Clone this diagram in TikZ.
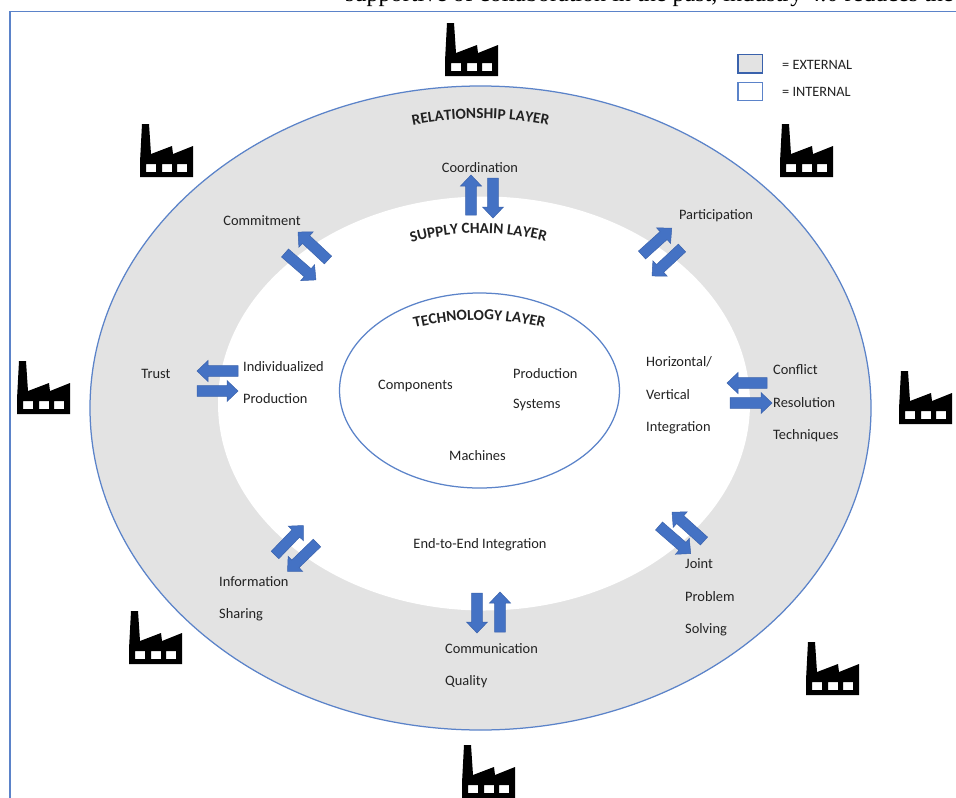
\documentclass[tikz,border=0pt]{standalone}
\usepackage{fontspec}
\setmainfont{Carlito}
\newfontfamily\topfont{Liberation Serif}
\usetikzlibrary{decorations.text}
\definecolor{ringblue}{HTML}{5B83C9}
\definecolor{ringgrey}{HTML}{E3E3E3}
\definecolor{arrowblue}{HTML}{4472C4}
\definecolor{arrowedge}{HTML}{3A62AC}
\definecolor{labelink}{HTML}{222222}
\tikzset{
  ring/.style={draw=ringblue,line width=1.25pt},
  lbl/.style={font=\fontsize{14.4}{16}\selectfont,text=labelink,inner sep=0pt},
  lbll/.style={lbl,anchor=west},
  legendtxt/.style={font=\fontsize{14.3}{16}\selectfont,text=labelink,inner sep=0pt,anchor=west},
  blockarrow/.style={fill=arrowblue,draw=arrowedge,line width=.5pt,line join=miter}
}
\newcommand{\curvefont}{\fontsize{15.3}{17}\selectfont\bfseries}
\newcommand{\blockarr}[4]{%
  \draw[blockarrow,shift={(#1,#2)},rotate=#3]
    (0,-5.3)--({#4-11},-5.3)--({#4-11},-10.5)--(#4,0)--({#4-11},10.5)--({#4-11},5.3)--(0,5.3)--cycle;}
\newcommand{\factory}[2]{%
  \begin{scope}[shift={(#1,#2)}]
    \fill[black,even odd rule]
      (2,0)--(9,0)--(11,30)--(32,22)--(33,30)--(53,22)--(53,53)--(0,53)--(0,38)--cycle
      (6,40) rectangle (16,48) (22,40) rectangle (32,48) (37,40) rectangle (47,48);
  \end{scope}}
\begin{document}
\begin{tikzpicture}[x=1pt,y=-1pt]
\clip (0,0) rectangle (956,798);
\fill[white] (0,0) rectangle (956,798);
% page frame and running text
\draw[ringblue,line width=1.1pt] (10,798)--(10,11.5)--(956,11.5);
\node[anchor=base west,inner sep=0pt,font=\topfont\fontsize{24.1}{26}\selectfont] (runtext) at (345,1.5) {supportive of collaboration in the past, industry 4.0 reduces the};
% rings
\draw[ring,fill=ringgrey] (480.5,408) ellipse [x radius=390.5,y radius=322];
\fill[white] (484,403.5) ellipse [x radius=266,y radius=207];
\draw[ring,fill=white] (479.5,390.5) ellipse [x radius=140,y radius=97.5];
% curved titles
\path[decorate,decoration={text along path,text align=center,text={|\curvefont\color{labelink}|RELATIONSHIP LAYER}}]
  (412,125.5) .. controls (455,116.5) and (506,116.5) .. (549,125.5);
\path[decorate,decoration={text along path,text align=center,text={|\curvefont\color{labelink}|SUPPLY CHAIN LAYER}}]
  (408,243.5) .. controls (455,230) and (502,230) .. (549,242);
\path[decorate,decoration={text along path,text align=center,text={|\curvefont\color{labelink}|TECHNOLOGY LAYER}}]
  (410,329) .. controls (457,317) and (502,317) .. (549,329);
% factories
\factory{445}{23}\factory{140}{124}\factory{780}{124}\factory{17}{361}
\factory{899}{371}\factory{129}{611}\factory{806}{642}\factory{462}{745}
% legend
\draw[draw=arrowedge,fill=ringgrey,line width=1.25pt] (738,54.5) rectangle (762.5,73);
\draw[ring,fill=white] (738,82.5) rectangle (762.5,100.5);
\node[legendtxt] (legext) at (782,64.5) {= EXTERNAL};
\node[legendtxt] (legint) at (782,91.5) {= INTERNAL};
% block arrows
\blockarr{471}{215}{90}{40}\blockarr{493}{178}{-90}{40}
\blockarr{238}{371}{180}{41}\blockarr{197}{391}{0}{41}
\blockarr{767}{383}{180}{40}\blockarr{730}{403}{0}{42}
\blockarr{328}{260}{137}{41}\blockarr{285}{253}{-41}{41}
\blockarr{642}{255}{42}{40}\blockarr{682}{248}{-137}{41}
\blockarr{275}{555}{46}{41}\blockarr{317}{543}{-136}{41}
\blockarr{477}{593}{-90}{40}\blockarr{500}{632}{90}{40}
\blockarr{704}{541}{138}{43}\blockarr{659}{526}{-41}{42}
% labels
\node[lbl] (coord) at (480,168) {Coordination};
\node[lbl] (commit) at (262,221) {Commitment};
\node[lbl] (partic) at (716,215.5) {Participation};
\node[lbl] (trust) at (156,374) {Trust};
\node[lbll] (indiv) at (243,366.5) {Individualized};
\node[lbll] (prod) at (243,399) {Production};
\node[lbl] (comp) at (415.5,386) {Components};
\node[lbll] (prodb) at (513,374) {Production};
\node[lbll] (syst) at (513,405) {Systems};
\node[lbl] (mach) at (477.5,455.5) {Machines};
\node[lbll] (horiz) at (646,362) {Horizontal/};
\node[lbll] (vert) at (646,395) {Vertical};
\node[lbll] (integ) at (646,427.5) {Integration};
\node[lbll] (confl) at (773,369.5) {Conflict};
\node[lbll] (resol) at (773,402.5) {Resolution};
\node[lbll] (techn) at (773,435.5) {Techniques};
\node[lbl] (etoe) at (480,544.5) {End-to-End Integration};
\node[lbll] (info) at (219,581.5) {Information};
\node[lbll] (shar) at (219,614.5) {Sharing};
\node[lbll] (joint) at (685,563.5) {Joint};
\node[lbll] (probl) at (685,596.5) {Problem};
\node[lbll] (solv) at (685,629.5) {Solving};
\node[lbll] (commu) at (445,648.5) {Communication};
\node[lbll] (qual) at (445,681.5) {Quality};
\end{tikzpicture}
\end{document}
